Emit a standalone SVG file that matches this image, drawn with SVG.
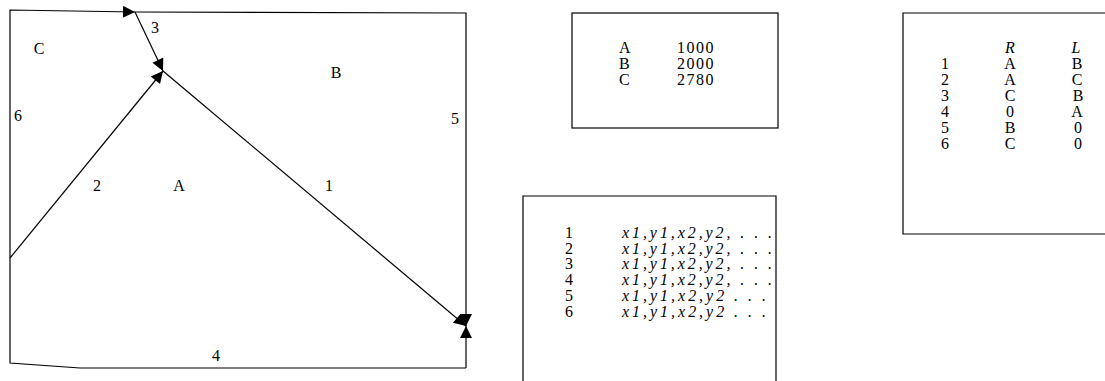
<svg xmlns="http://www.w3.org/2000/svg" width="1105" height="381" viewBox="0 0 1105 381">
<style>
text{font-family:"Liberation Serif","Times New Roman",serif;font-size:16px;fill:#000}
.it{font-style:italic}
.n{letter-spacing:1.5px}
.m{text-anchor:middle}
.ln{fill:none;stroke:#000;stroke-width:1.2}
.bx{fill:none;stroke:#000;stroke-width:1.2}
</style>
<defs>
<marker id="ah" viewBox="0 0 10 10" refX="10" refY="5" markerWidth="17" markerHeight="12" markerUnits="userSpaceOnUse" orient="auto">
<path d="M0,0 L10,5 L0,10 z" fill="#000"/>
</marker>
</defs>
<rect width="1105" height="381" fill="#fff"/>
<g id="connectors">
<path class="ln" d="M10,258 L10,363 L80,368 L466,368"/>
<path class="ln" d="M10,258 L10,10 L135,12" marker-end="url(#ah)"/>
<path class="ln" d="M135,12 L466,13 L466,326" marker-end="url(#ah)"/>
<path class="ln" d="M135,12 L163,71" marker-end="url(#ah)"/>
<path class="ln" d="M10,258 L163,71" marker-end="url(#ah)"/>
<path class="ln" d="M163,71 L466,326" marker-end="url(#ah)"/>
<path class="ln" d="M466,368 L466,326" marker-end="url(#ah)"/>
</g>
<g id="labels" style="font-size:17px">
<text class="m" x="39" y="54">C</text>
<text class="m" x="336" y="78">B</text>
<text class="m" x="179" y="191">A</text>
<text class="m" x="155" y="33">3</text>
<text class="m" x="18" y="121">6</text>
<text class="m" x="455" y="124">5</text>
<text class="m" x="97" y="191">2</text>
<text class="m" x="329" y="191">1</text>
<text class="m" x="216" y="361">4</text>
</g>
<g id="areas">
<rect class="bx" x="572" y="13" width="206" height="115"/>
<text x="619" y="53">A</text><text class="n" x="677" y="53">1000</text>
<text x="619" y="69">B</text><text class="n" x="677" y="69">2000</text>
<text x="619" y="85">C</text><text class="n" x="677" y="85">2780</text>
</g>
<g id="edges-coords">
<path class="bx" d="M523,390 L523,196 L776,196 L776,390"/>
<text class="m" x="569" y="238">1</text><text class="it" x="622" y="238" textLength="150">x1,y1,x2,y2, . . .</text>
<text class="m" x="569" y="254">2</text><text class="it" x="622" y="254" textLength="150">x1,y1,x2,y2, . . .</text>
<text class="m" x="569" y="269">3</text><text class="it" x="622" y="269" textLength="150">x1,y1,x2,y2, . . .</text>
<text class="m" x="569" y="285">4</text><text class="it" x="622" y="285" textLength="150">x1,y1,x2,y2, . . .</text>
<text class="m" x="569" y="301">5</text><text class="it" x="622" y="301" textLength="144">x1,y1,x2,y2 . . .</text>
<text class="m" x="569" y="317">6</text><text class="it" x="622" y="317" textLength="144">x1,y1,x2,y2 . . .</text>
</g>
<g id="edges-regions">
<path class="bx" d="M1110,13 L903,13 L903,234 L1110,234"/>
<text class="it m" x="1010" y="53">R</text><text class="it m" x="1076" y="53">L</text>
<text class="m" x="945" y="69">1</text><text class="m" x="1010" y="69">A</text><text class="m" x="1077" y="69">B</text>
<text class="m" x="945" y="85">2</text><text class="m" x="1010" y="85">A</text><text class="m" x="1077" y="85">C</text>
<text class="m" x="945" y="101">3</text><text class="m" x="1010" y="101">C</text><text class="m" x="1078" y="101">B</text>
<text class="m" x="945" y="117">4</text><text class="m" x="1010" y="117">0</text><text class="m" x="1077" y="117">A</text>
<text class="m" x="945" y="133">5</text><text class="m" x="1010" y="133">B</text><text class="m" x="1078" y="133">0</text>
<text class="m" x="945" y="149">6</text><text class="m" x="1010" y="149">C</text><text class="m" x="1078" y="149">0</text>
</g>
</svg>
